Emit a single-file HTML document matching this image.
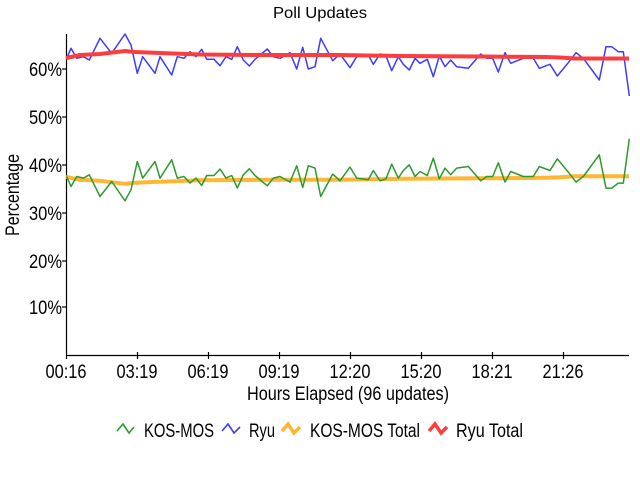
<!DOCTYPE html>
<html><head><meta charset="utf-8"><style>html,body{margin:0;padding:0;background:#fff}svg{display:block}text{font-family:"Liberation Sans",sans-serif;fill:#000}</style></head>
<body>
<svg width="640" height="480" viewBox="0 0 640 480" xmlns="http://www.w3.org/2000/svg">
<text x="320" y="18" font-size="16" text-anchor="middle" textLength="94" lengthAdjust="spacingAndGlyphs">Poll Updates</text>
<g stroke="#000" stroke-width="1.2" fill="none">
<line x1="66.5" y1="34" x2="66.5" y2="355"/>
<line x1="66" y1="355.5" x2="629" y2="355.5"/>
<line x1="62" y1="69" x2="66" y2="69"/><line x1="62" y1="117" x2="66" y2="117"/><line x1="62" y1="165" x2="66" y2="165"/><line x1="62" y1="213" x2="66" y2="213"/><line x1="62" y1="261" x2="66" y2="261"/><line x1="62" y1="307" x2="66" y2="307"/>
<line x1="66.5" y1="355" x2="66.5" y2="359"/><line x1="137.5" y1="352" x2="137.5" y2="359"/><line x1="208.5" y1="352" x2="208.5" y2="359"/><line x1="279.5" y1="352" x2="279.5" y2="359"/><line x1="350.5" y1="352" x2="350.5" y2="359"/><line x1="421.5" y1="352" x2="421.5" y2="359"/><line x1="492.5" y1="352" x2="492.5" y2="359"/><line x1="563.5" y1="352" x2="563.5" y2="359"/>
</g>
<g font-size="19" text-anchor="end">
<text x="62" y="76" textLength="33" lengthAdjust="spacingAndGlyphs">60%</text>
<text x="62" y="124" textLength="33" lengthAdjust="spacingAndGlyphs">50%</text>
<text x="62" y="172" textLength="33" lengthAdjust="spacingAndGlyphs">40%</text>
<text x="62" y="220" textLength="33" lengthAdjust="spacingAndGlyphs">30%</text>
<text x="62" y="268" textLength="33" lengthAdjust="spacingAndGlyphs">20%</text>
<text x="62" y="314" textLength="33" lengthAdjust="spacingAndGlyphs">10%</text>
</g>
<g font-size="19" text-anchor="middle">
<text x="66" y="378" textLength="41" lengthAdjust="spacingAndGlyphs">00:16</text>
<text x="137" y="378" textLength="41" lengthAdjust="spacingAndGlyphs">03:19</text>
<text x="208" y="378" textLength="41" lengthAdjust="spacingAndGlyphs">06:19</text>
<text x="279" y="378" textLength="41" lengthAdjust="spacingAndGlyphs">09:19</text>
<text x="350" y="378" textLength="41" lengthAdjust="spacingAndGlyphs">12:20</text>
<text x="421" y="378" textLength="41" lengthAdjust="spacingAndGlyphs">15:20</text>
<text x="492" y="378" textLength="41" lengthAdjust="spacingAndGlyphs">18:21</text>
<text x="563" y="378" textLength="41" lengthAdjust="spacingAndGlyphs">21:26</text>
<text x="348" y="400" textLength="202" lengthAdjust="spacingAndGlyphs">Hours Elapsed (96 updates)</text>
<text transform="translate(19,195) rotate(-90)" textLength="82" lengthAdjust="spacingAndGlyphs">Percentage</text>
</g>
<defs>
<polyline id="ryu" points="66.7,58.3 71,48.3 76.7,58.3 83.3,56.7 89.3,60 100,38.3 111.7,53.3 125,34 131,45 137.3,73.3 142.7,56.7 155,73.3 160,56.7 171.7,75 177.3,56.7 184,58.3 190,51.7 196,56.7 201.7,49.3 206.7,59.3 214,59.3 220,65.7 226,56.7 231.7,59.3 237.3,46.7 243.3,60 249.3,66 255,59.3 267.3,49 273.3,56.7 280,58.3 290,52.7 296.7,69 302.7,47.3 308.3,69 315,66.7 320.7,38.3 332.7,60.7 340,54 350,67.7 356.7,56.7 368.3,55 373.3,64.3 380,54 386,56 391.7,70.7 398.3,56.7 403.3,64.3 409.3,70 415,58.3 420,63.3 427.3,59.3 433.3,76.7 439.3,56 445,66.7 450.7,60 456.7,66.7 468.3,68.3 480.7,54 486.7,58.3 492.7,58.3 498.3,72 505,52.7 510.7,63.3 523.3,58.3 533.3,58.3 539.3,68.3 550,64.3 557.3,76 568.3,62.7 576,52.7 583.3,58.3 599.3,80 606,46.7 611.7,46.7 618.3,51.7 623.3,51.7 629.3,96"/>
<polyline id="tot" points="66,58 80,55 100,54 125,51 135,52 160,53 200,54.5 260,55 340,55 400,56 480,56.5 545,57 560,57.5 575,58.5 629,58.5"/>
</defs>
<g fill="none" stroke-linejoin="round">
<use href="#tot" stroke="#ffb733" stroke-width="4" transform="translate(0,234.8) scale(1,-1)"/>
<use href="#ryu" stroke="#2e9a2e" stroke-width="1.5" transform="translate(0,234.8) scale(1,-1)"/>
<use href="#ryu" stroke="#3c3cff" stroke-width="1.5"/>
<use href="#tot" stroke="#ff3c3c" stroke-width="4"/>
</g>
<g fill="none" stroke-width="1.6">
<polyline points="117,431 123,424 129,433 134,427" stroke="#2e9a2e"/>
<polyline points="222,431 228,424 234,433 240,427" stroke="#3c3cff"/>
<polyline points="282,431 288,424 294,433 300,427" stroke="#ffb733" stroke-width="3.5"/>
<polyline points="429,431 435,424 441,433 447,427" stroke="#ff3c3c" stroke-width="3.5"/>
</g>
<g font-size="19">
<text x="144" y="437" textLength="70" lengthAdjust="spacingAndGlyphs">KOS-MOS</text>
<text x="249" y="437" textLength="26" lengthAdjust="spacingAndGlyphs">Ryu</text>
<text x="310" y="437" textLength="110" lengthAdjust="spacingAndGlyphs">KOS-MOS Total</text>
<text x="456" y="437" textLength="67" lengthAdjust="spacingAndGlyphs">Ryu Total</text>
</g>
</svg>
</body></html>
